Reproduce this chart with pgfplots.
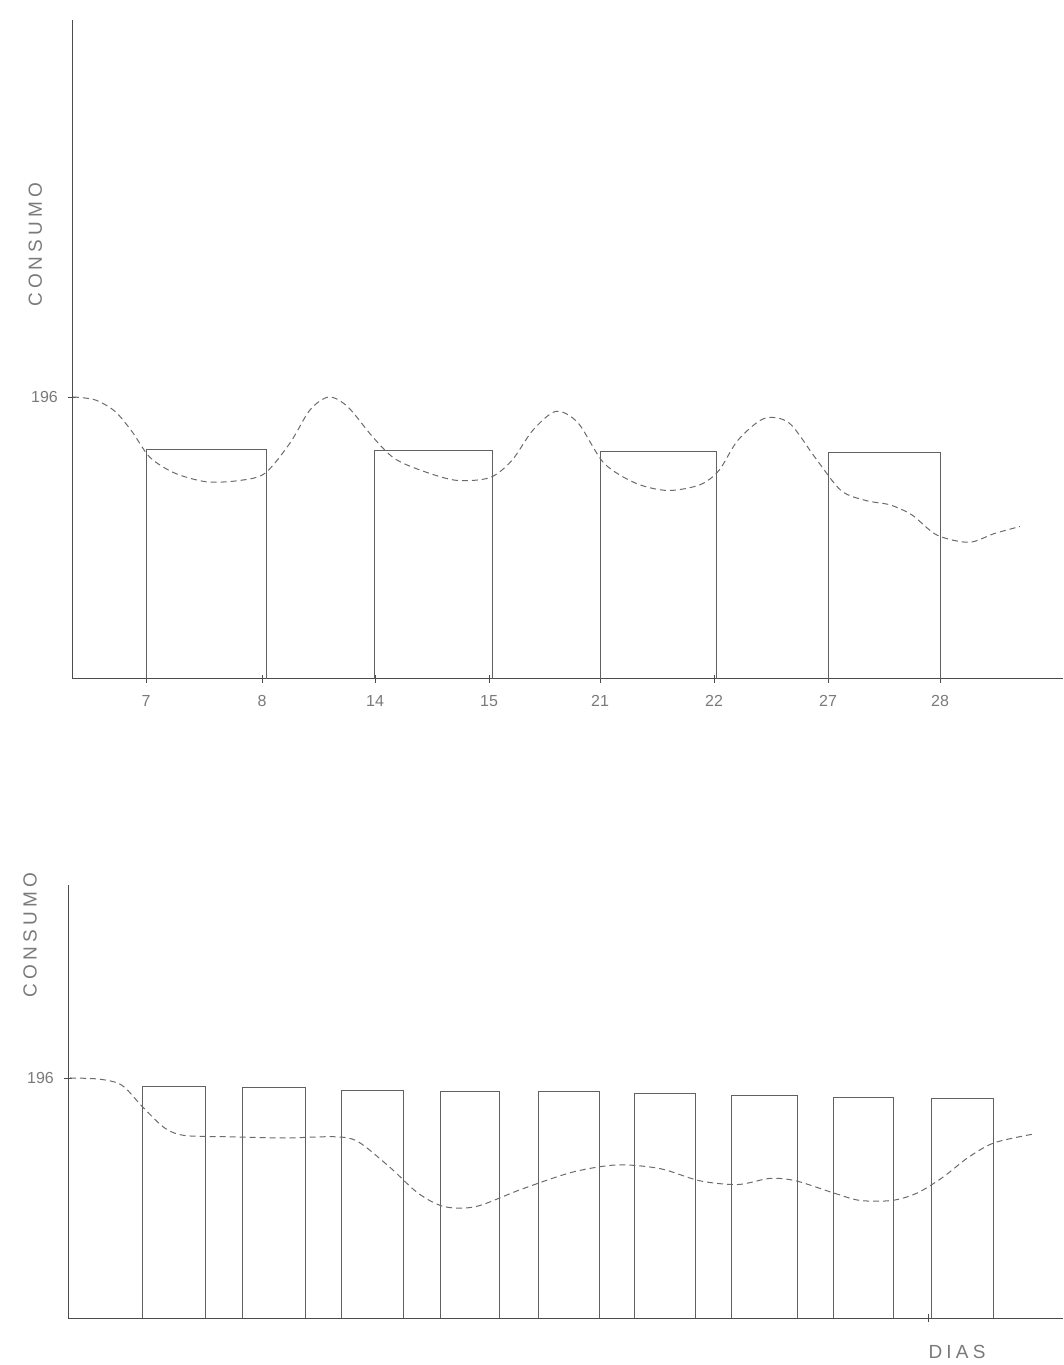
\documentclass[border=0pt]{standalone}
\usepackage{pgfplots}
\pgfplotsset{compat=1.18}
\usepackage{fontspec}
\setmainfont{Liberation Sans}
\definecolor{ink}{gray}{0.30}
\definecolor{pencil}{gray}{0.38}
\definecolor{dashgray}{gray}{0.42}
\definecolor{lbl}{gray}{0.48}
\pgfplotsset{
  sketch/.style={
    scale only axis, clip=false,
    axis x line=bottom, axis y line=left,
    axis line style={ink, line width=1pt, -},
    tick style={ink, line width=0.8pt},
    major tick length=8pt, tick align=center,
    ticklabel style={font=\fontsize{16}{16}\selectfont, text=lbl},
    /pgf/number format/assume math mode=true,
    label style={font=\fontsize{19}{19}\selectfont\addfontfeature{LetterSpace=22}, text=lbl},
  },
  bars/.style={pencil, line width=1pt, unbounded coords=jump},
  curve/.style={dashgray, line width=1pt, dash pattern=on 6pt off 4pt, smooth},
}
\begin{document}
\begin{tikzpicture}[x=1pt,y=1pt]
\useasboundingbox (0,0) rectangle (1063,1365);
% ---------------- top chart ----------------
\begin{axis}[sketch,
  at={(72pt,686pt)}, anchor=south west,
  width=991pt, height=659pt,
  xmin=72, xmax=1063, ymin=0, ymax=458,
  xtick={146,262,375,489,600,714,828,940},
  xticklabels={7,8,14,15,21,22,27,28},
  xticklabel style={anchor=north, inner sep=0pt, yshift=-12pt},
  ytick={196},
  yticklabel style={anchor=east, inner sep=0pt, xshift=-10pt},
  ylabel={CONSUMO},
  ylabel style={at={(axis description cs:-0.037,0.659)}, anchor=center},
]
\addplot[bars] coordinates {
 (146,0) (146,159.6) (266,159.6) (266,0) (300,nan)
 (374,0) (374,158.5) (492,158.5) (492,0) (540,nan)
 (600,0) (600,157.8) (716,157.8) (716,0) (760,nan)
 (828,0) (828,157.1) (940,157.1) (940,0)};
\addplot[curve] coordinates {
 (73,196) (95,194) (115,186) (132,172) (150,154) (175,143) (207,137) (240,138)
 (265,143) (290,164) (310,187) (329,196) (348,189) (373,168) (395,153)
 (425,144) (457,138) (490,140) (512,152) (533,173) (556,186) (578,178)
 (604,150) (636,136) (668,131) (700,135) (719,145) (738,166) (764,181)
 (789,178) (815,154) (841,131) (866,124) (890,121) (912,114) (937,100)
 (969,95) (994,101) (1020,106)};
\end{axis}
% ---------------- bottom chart ----------------
\begin{axis}[sketch,
  at={(68pt,47pt)}, anchor=south west,
  width=995pt, height=433pt,
  xmin=68, xmax=1063, ymin=0, ymax=353.6,
  xtick={928}, xticklabels={},
  ytick={196},
  yticklabel style={anchor=east, inner sep=0pt, xshift=-10pt},
  ylabel={CONSUMO},
  ylabel style={at={(axis description cs:-0.038,0.8845)}, anchor=center},
  xlabel={DIAS},
  xlabel style={at={(axis description cs:0.8935,-0.0785)}, anchor=center},
]
\addplot[bars] coordinates {
 (142,0) (142,189) (205,189) (205,0) (220,nan)
 (242,0) (242,188) (305,188) (305,0) (320,nan)
 (341,0) (341,186) (403,186) (403,0) (420,nan)
 (440,0) (440,185) (499,185) (499,0) (520,nan)
 (538,0) (538,185) (599,185) (599,0) (610,nan)
 (634,0) (634,183) (695,183) (695,0) (710,nan)
 (731,0) (731,182) (797,182) (797,0) (810,nan)
 (833,0) (833,180) (893,180) (893,0) (910,nan)
 (931,0) (931,179) (993,179) (993,0)};
\addplot[curve] coordinates {
 (70,196) (100,195) (122,190) (143,172) (165,155) (185,149) (230,148) (284,147) (335,148)
 (358,144) (390,123) (418,102) (444,91) (476,91) (521,105) (572,119)
 (617,125) (660,122) (700,112) (738,109) (770,114) (796,112) (834,102)
 (860,96) (892,96) (917,102) (943,115) (968,131) (994,143) (1032,150)};
\end{axis}
\end{tikzpicture}
\end{document}
